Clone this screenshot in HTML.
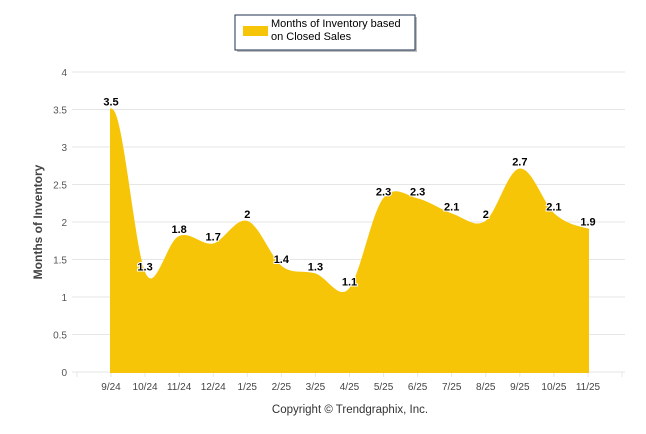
<!DOCTYPE html>
<html><head><meta charset="utf-8"><style>
body{margin:0;background:#fff;}
svg{display:block;font-family:"Liberation Sans",Arial,sans-serif;}
</style></head><body>
<svg id="c" width="646" height="434">
<g>
<rect x="237" y="17" width="180" height="35" fill="#444" opacity="0.35"/>
<rect x="235" y="15" width="180" height="35" fill="#fff" stroke="#1f3050" stroke-width="1"/>
<rect x="243" y="26" width="25" height="10" fill="#f7c508"/>
<text x="271" y="27" font-size="11" fill="#000">Months of Inventory based</text>
<text x="271" y="40" font-size="11" fill="#000">on Closed Sales</text>
</g>
<g id="grid"></g>
<g id="marks"></g>
<text transform="translate(42,222) rotate(-90)" text-anchor="middle" font-size="12" font-weight="bold" fill="#444">Months of Inventory</text>
<text x="350" y="413" text-anchor="middle" font-size="11.5" fill="#333">Copyright © Trendgraphix, Inc.</text>
</svg>
<script>
const categories=["9/24","10/24","11/24","12/24","1/25","2/25","3/25","4/25","5/25","6/25","7/25","8/25","9/25","10/25","11/25"];
const values=[3.5,1.3,1.8,1.7,2,1.4,1.3,1.1,2.3,2.3,2.1,2,2.7,2.1,1.9];
const yTicks=[0,0.5,1,1.5,2,2.5,3,3.5,4];
const NS="http://www.w3.org/2000/svg";
const svg=document.getElementById('c'),grid=document.getElementById('grid'),marks=document.getElementById('marks');
const L=72,R=625,step=34.07,X0=111-step;
const x=i=>X0+step*(i+1);
const y=v=>372-v*75;
function mk(t,a,p){const e=document.createElementNS(NS,t);for(const k in a)e.setAttribute(k,a[k]);(p||svg).appendChild(e);return e;}
yTicks.forEach(t=>{
 const g=mk('line',{x1:L,x2:R,y1:y(t),y2:y(t),stroke:'#e6e6e6'},grid);
 
 
 const tx=mk('text',{x:67,y:y(t)+4,'text-anchor':'end','font-size':10,fill:'#555'},grid);
 tx.textContent=t;
 
 
});
for(let i=0;i<=16;i++){const t=mk('line',{x1:X0+step*i,x2:X0+step*i,y1:372,y2:377,stroke:'#e6e6e6'},grid);
 
 }
categories.forEach((c,i)=>{const t=mk('text',{x:x(i),y:390,'text-anchor':'middle','font-size':10,fill:'#444'},grid);t.textContent=c;
 
 });
const pts=values.map((v,i)=>[x(i),y(v)]);
let d=`M${pts[0][0]},${y(0)}L${pts[0][0]},${pts[0][1]}`;
const s=1.5;
for(let i=0;i<pts.length-1;i++){
 const p0=pts[Math.max(0,i-1)],p1=pts[i],p2=pts[i+1],p3=pts[Math.min(pts.length-1,i+2)];
 let c1y=p1[1]+(p2[1]-p0[1])/(2*s*2),c2y=p2[1]-(p3[1]-p1[1])/(2*s*2);
 if(i===0){c1y=p1[1];}
 const c1x=p1[0]+step/s/2,c2x=p2[0]-step/s/2;
 d+=`C${c1x},${c1y} ${c2x},${c2y} ${p2[0]},${p2[1]}`;
}
d+=`L${pts[pts.length-1][0]},${y(0)}Z`;
const area=mk('path',{d:d,fill:'#f7c508',stroke:'#f7c508','stroke-width':2},marks);


values.forEach((v,i)=>{
 const t=mk('text',{x:x(i),y:y(v)-4,'text-anchor':'middle','font-size':11,'font-weight':'bold',fill:'#000',stroke:'#fff','stroke-width':2,'paint-order':'stroke'},marks);
 t.textContent=v;
 
 
});
</script>
</body></html>
